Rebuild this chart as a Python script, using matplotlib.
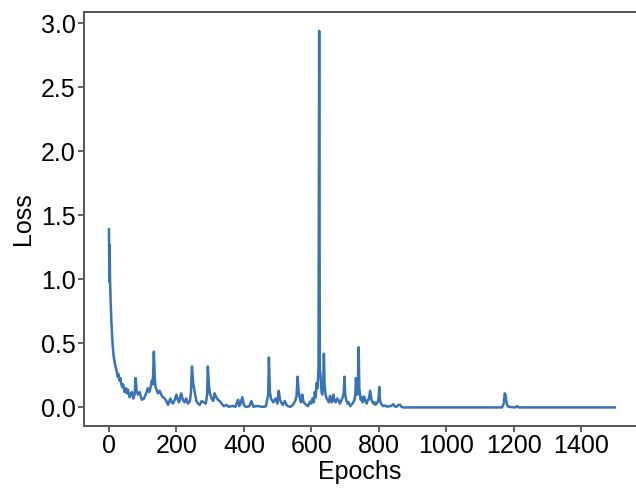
import matplotlib
matplotlib.use("Agg")
from matplotlib import pyplot as plt

# Loss curve, rows of ten points each
epochs = [0, 1, 2, 3, 5, 7, 9, 11, 14, 17,
          21, 24, 26, 28, 31, 34, 36, 39, 42, 46,
          50, 53, 56, 61, 64, 68, 72, 76, 79, 82,
          86, 91, 95, 98, 104, 110, 115, 119, 122, 127,
          130, 133, 136, 138, 142, 145, 150, 155, 160, 165,
          170, 175, 182, 186, 190, 195, 200, 204, 208, 214,
          219, 224, 229, 234, 240, 243, 246, 249, 252, 259,
          264, 269, 275, 281, 287, 291, 293, 296, 299, 304,
          309, 313, 318, 323, 328, 334, 340, 348, 355, 362,
          370, 375, 378, 383, 386, 389, 395, 400, 405, 410,
          416, 422, 428, 436, 445, 452, 460, 465, 468, 472,
          474, 477, 480, 487, 494, 499, 503, 507, 510, 515,
          521, 526, 530, 538, 545, 552, 556, 559, 562, 565,
          569, 573, 576, 580, 585, 590, 596, 600, 603, 607,
          610, 613, 615, 618, 621, 623, 625, 627, 630, 632,
          635, 637, 639, 642, 645, 648, 652, 655, 660, 665,
          668, 672, 676, 680, 684, 688, 693, 696, 698, 700,
          703, 707, 710, 715, 718, 722, 726, 728, 730, 732,
          734, 736, 738, 740, 742, 746, 749, 752, 756, 760,
          764, 767, 770, 774, 777, 779, 784, 787, 790, 796,
          799, 801, 803, 806, 812, 818, 825, 830, 835, 840,
          843, 846, 850, 855, 858, 863, 867, 872, 1000, 1165,
          1170, 1173, 1175, 1177, 1180, 1184, 1205, 1210, 1215, 1350,
          1499]
loss = [1.39, 0.98, 1.27, 1.02, 0.82, 0.68, 0.58, 0.48, 0.40, 0.35,
        0.30, 0.27, 0.24, 0.26, 0.21, 0.23, 0.19, 0.16, 0.18, 0.12,
        0.15, 0.11, 0.14, 0.08, 0.10, 0.12, 0.07, 0.10, 0.23, 0.13,
        0.10, 0.12, 0.08, 0.06, 0.07, 0.11, 0.15, 0.12, 0.14, 0.21,
        0.18, 0.435, 0.22, 0.16, 0.13, 0.11, 0.13, 0.10, 0.08, 0.07,
        0.05, 0.02, 0.07, 0.04, 0.03, 0.06, 0.10, 0.06, 0.04, 0.11,
        0.06, 0.04, 0.07, 0.03, 0.05, 0.12, 0.32, 0.20, 0.15, 0.05,
        0.03, 0.02, 0.05, 0.04, 0.03, 0.10, 0.32, 0.18, 0.11, 0.07,
        0.05, 0.11, 0.08, 0.06, 0.05, 0.03, 0.01, 0.02, 0.005, 0.01,
        0.01, 0.005, 0.03, 0.06, 0.01, 0.02, 0.08, 0.02, 0.005, 0.005,
        0.01, 0.05, 0.005, 0.01, 0.01, 0.005, 0.005, 0.01, 0.05, 0.10,
        0.39, 0.12, 0.07, 0.04, 0.07, 0.03, 0.13, 0.06, 0.04, 0.02,
        0.05, 0.02, 0.01, 0.005, 0.02, 0.05, 0.09, 0.24, 0.13, 0.08,
        0.04, 0.10, 0.05, 0.03, 0.02, 0.01, 0.045, 0.03, 0.07, 0.04,
        0.12, 0.08, 0.19, 0.15, 0.30, 2.94, 0.30, 0.25, 0.12, 0.10,
        0.16, 0.42, 0.18, 0.10, 0.07, 0.06, 0.04, 0.09, 0.04, 0.10,
        0.05, 0.04, 0.07, 0.06, 0.03, 0.05, 0.08, 0.12, 0.24, 0.10,
        0.06, 0.03, 0.04, 0.01, 0.02, 0.03, 0.05, 0.06, 0.10, 0.23,
        0.14, 0.10, 0.20, 0.47, 0.15, 0.06, 0.08, 0.04, 0.085, 0.05,
        0.03, 0.06, 0.06, 0.13, 0.08, 0.05, 0.03, 0.04, 0.02, 0.04,
        0.07, 0.16, 0.06, 0.03, 0.01, 0.015, 0.005, 0.01, 0.01, 0.02,
        0.025, 0.01, 0.005, 0.01, 0.02, 0.02, 0.005, 0.0, 0.0, 0.0,
        0.03, 0.11, 0.10, 0.06, 0.02, 0.005, 0.0, 0.01, 0.0, 0.0,
        0.0]

x_ticks = [0, 200, 400, 600, 800, 1000, 1200, 1400]
y_ticks = [0.0, 0.5, 1.0, 1.5, 2.0, 2.5, 3.0]

plt.rcParams['font.family'] = ['Liberation Sans', 'DejaVu Sans']

fig = plt.figure(figsize=(6.36, 4.91), dpi=100)
ax = fig.add_axes([84 / 636, 1 - 426 / 491, (636 - 84) / 636, (426 - 12) / 491])

ax.plot(epochs, loss, color='#3873b5', lw=1.8, solid_joinstyle='round')

ax.set_xlim(-74, 1562)
ax.set_ylim(-0.145, 3.088)
ax.set_xticks(x_ticks)
ax.set_yticks(y_ticks)
ax.set_yticklabels([f"{v:.1f}" for v in y_ticks])

for side in ['left', 'bottom', 'top']:
    ax.spines[side].set_color('#555555')
    ax.spines[side].set_linewidth(1.4)
ax.spines['right'].set_visible(False)

ax.tick_params(direction='out', length=4, width=1.1, color='#333333',
               labelsize=18, pad=2, labelcolor='black')

ax.set_xlabel("Epochs", fontsize=18, labelpad=1.5)
ax.set_ylabel("Loss", fontsize=18, labelpad=4)

fig.savefig("out.png", dpi=100)
